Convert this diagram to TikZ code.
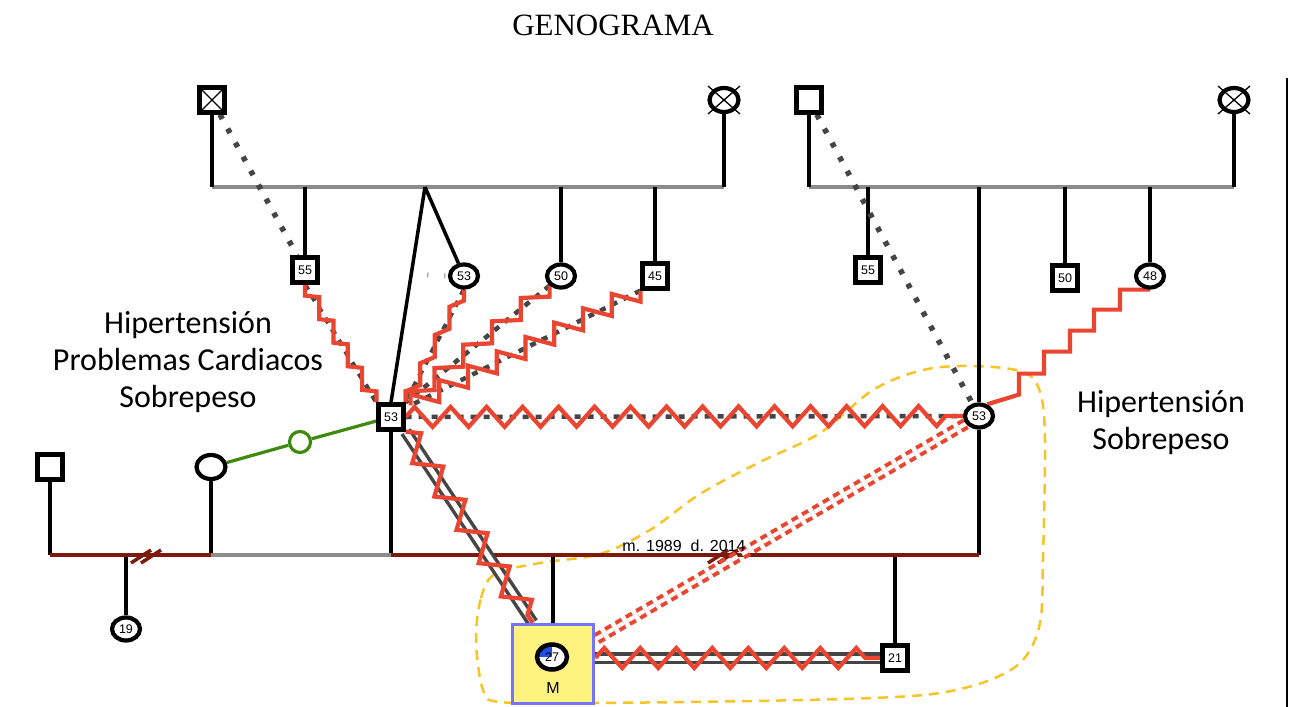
\documentclass[tikz,border=0pt]{standalone}
\usepackage{fontspec}
\setmainfont{Liberation Serif}
\newfontfamily\carl{Carlito}
\newfontfamily\arl{Liberation Sans}
\usetikzlibrary{shapes.geometric,decorations.pathmorphing,calc}
\definecolor{zred}{HTML}{EA4530}
\definecolor{dgray}{HTML}{454545}
\definecolor{lgray}{HTML}{8C8C8C}
\definecolor{mred}{HTML}{7E1A0C}
\definecolor{gr}{HTML}{3E8A0C}
\definecolor{yel}{HTML}{F7C427}
\definecolor{boxy}{HTML}{FFF380}
\definecolor{boxb}{HTML}{7373FF}
\definecolor{ib}{HTML}{1F4FE6}
\pgfdeclarelayer{bg}
\pgfsetlayers{bg,main}
\newcommand\stairline[4]{%
  \draw[redst] (#1) \foreach \k in {1,...,#3} {
     -- ($(#1)!{(\k-1)/#3}!(#2)+(0,#4)$) -- ($(#1)!{\k/#3}!(#2)+(0,-#4)$) } -- (#2);
}
\begin{document}
\begin{tikzpicture}[x=1pt,y=-1pt,
  numf/.style={font=\arl\fontsize{12.5}{12.5}\selectfont},
  sq/.style={draw, line width=4.2pt, fill=white, minimum width=25pt, minimum height=25pt, inner sep=0pt, numf},
  ci/.style={ellipse, draw, line width=4.2pt, fill=white, minimum width=28pt, minimum height=23pt, inner sep=0pt, numf},
  kin/.style={line width=4.5pt, black},
  sib/.style={line width=4.5pt, lgray},
  mline/.style={line width=4.5pt, mred},
  graydash/.style={line width=4.5pt, dgray, dash pattern=on 6pt off 7pt},
  dots/.style={line width=5.5pt, dgray, dash pattern=on 5pt off 11pt},
  redst/.style={line width=4.2pt, zred, line join=miter, miter limit=4},
  zz/.style={line width=4.2pt, zred, line join=miter, decorate, decoration={zigzag, segment length=#1, amplitude=10pt}},
  dbl/.style={line width=3.5pt, dgray, double=white, double distance=5pt},
  reddbl/.style={line width=4pt, zred, double=white, double distance=4pt, dash pattern=on 7pt off 5pt},
  hh/.style={yel, line width=2.5pt, dash pattern=on 10pt off 7pt},
  xsq/.style={sq, path picture={\draw[line width=1.3pt] (path picture bounding box.north west) -- (path picture bounding box.south east) (path picture bounding box.north east) -- (path picture bounding box.south west);}},
  lbl/.style={font=\carl\fontsize{32}{37}\selectfont, align=center}
]
\useasboundingbox (0,0) rectangle (1294,707);

% title and labels
\node[font=\fontsize{31}{31}\selectfont] (title) at (613,25) {GENOGRAMA};
\node[lbl] (ltxt) at (188,362) {Hipertensión\\Problemas Cardiacos\\Sobrepeso};
\node[lbl] (rtxt) at (1161,423) {Hipertensión\\Sobrepeso};
\node[font=\arl\fontsize{16}{16}\selectfont, anchor=base] (mlab) at (684,551) {m. 1989\ \ d. 2014};

% nodes - paternal
\node[xsq] (gf1) at (212,100) {};
\node[ci, minimum width=29pt, minimum height=24pt] (gm1) at (724,100) {};
\node[sq] (u55) at (305,270) {55};
\node[ci] (aunt53) at (464,276) {53};
\node[ci] (a50) at (561,276) {50};
\node[sq] (u45) at (655,276) {45};
\node[sq] (father) at (391,417) {53};
% maternal
\node[sq] (gf2) at (809,100) {};
\node[ci, minimum width=29pt, minimum height=24pt] (gm2) at (1234,100) {};
\node[sq] (mu55) at (868,270) {55};
\node[ci] (mother) at (979,416) {53};
\node[sq] (mu50) at (1065,278) {50};
\node[ci] (ma48) at (1150,276) {48};
% left
\node[sq] (lsq) at (50,467) {};
\node[ci, minimum width=29pt, minimum height=24pt] (wom) at (211,467) {};
\node[circle, draw=gr, line width=3.2pt, fill=white, minimum size=21pt, inner sep=0pt] (gc) at (300,442) {};
\node[ci] (c19) at (126,629) {19};
% children
\node[draw=boxb, fill=boxy, line width=3.5pt, minimum width=81pt, minimum height=79pt, inner sep=0pt] (Mbox) at (553,664) {};
\node[ci, minimum width=30pt, minimum height=25pt, line width=4.5pt,
  path picture={\fill[ib] (path picture bounding box.center) -- (path picture bounding box.west) |- (path picture bounding box.north) -- cycle;}] (idx) at (552,657) {27};
\node[font=\arl\fontsize{16}{16}\selectfont] (Mlab) at (553,688) {M};
\node[sq] (s21) at (895,658) {21};

% crosses on deceased grandmothers
\foreach \g in {gm1,gm2}{
  \draw[line width=1.3pt] ($(\g.center)+(-16,-14)$) -- ($(\g.center)+(16,14)$);
  \draw[line width=1.3pt] ($(\g.center)+(16,-14)$) -- ($(\g.center)+(-16,14)$);
}

\begin{pgfonlayer}{bg}
% household boundary
\draw[hh] plot[smooth cycle, tension=0.55] coordinates {(476,640) (481,598) (495,574) (540,563) (600,554) (650,530) (700,494) (760,462) (820,433) (873,390) (923,370) (973,366) (1023,372) (1040,392) (1045,440) (1043,560) (1040,623) (1023,660) (990,680) (940,693) (873,698) (753,701) (587,703) (500,702) (483,690)};

% sibship lines
\coordinate (p0) at (212,187); \coordinate (p1) at (724,187);
\coordinate (q0) at (809,187); \coordinate (q1) at (1234,187);
\coordinate (tw) at (425,187);
\draw[sib] (p0) -- (p1);
\draw[sib] (q0) -- (q1);
\draw[kin] (gf1.south) -- (p0);
\draw[kin] (gm1.south) -- (p1);
\draw[kin] (u55.north) -- (u55.north |- p0);
\draw[kin] (a50.north) -- (a50.north |- p0);
\draw[kin] (u45.north) -- (u45.north |- p0);
\draw[kin, line width=3.5pt] (tw) -- (father.north);
\draw[kin, line width=3.5pt] (tw) -- (aunt53);
\draw[lgray!70, line width=5pt, dash pattern=on 1.5pt off 15.5pt] (427,275) -- (aunt53.west);
\draw[kin] (gf2.south) -- (q0);
\draw[kin] (gm2.south) -- (q1);
\draw[kin] (mu55.north) -- (mu55.north |- q0);
\draw[kin] (mother.north) -- (mother.north |- q0);
\draw[kin] (mu50.north) -- (mu50.north |- q0);
\draw[kin] (ma48.north) -- (ma48.north |- q0);

% marriages
\coordinate (m0) at (50,555); \coordinate (m1) at (211,555);
\coordinate (m2) at (391,555); \coordinate (m3) at (979,555);
\draw[kin] (lsq.south) -- (m0);
\draw[kin] (wom.south) -- (m1);
\draw[kin] (father.south) -- (m2);
\draw[kin] (mother.south) -- (m3);
\draw[kin] (c19.north) -- (c19.north |- m0);
\draw[kin] (Mbox.north) -- (Mbox.north |- m2);
\draw[kin] (s21.north) -- (s21.north |- m2);
\draw[mline] (m0) -- (m1);
\draw[sib] (m1) -- (m2);
\draw[mline] (m2) -- (m3);
\coordinate (d1) at (141,556); \coordinate (d2) at (718,556);
\foreach \d in {d1,d2}{
  \draw[mline, line width=3.5pt] (\d) ++(-10,7) -- ++(20,-13);
  \draw[mline, line width=3.5pt] (\d) ++(0,7) -- ++(20,-13);
}

% dotted lines
\draw[dots] (gf1) -- (u55);
\draw[dots] (gf2) -- (mother);

% green
\draw[gr, line width=3.2pt] (wom) -- (gc) -- (father);

% relationships father - siblings
\draw[graydash] (u55.south) -- (father.north west);
\stairline{u55.south}{father.north west}{5}{11}
\draw[graydash] (aunt53.south) -- (father.north east);
\stairline{aunt53.south}{father.north east}{4}{11}
\draw[graydash] (a50.south west) -- (father.north east);
\stairline{a50.south west}{father.north east}{5}{11}
\coordinate (fne) at ($(father.north east)+(5,3)$);
\draw[graydash] (u45.south west) -- (fne);
\stairline{u45.south west}{fne}{8}{11}

% father - mother
\draw[graydash] (father.east) -- (mother.west);
\draw[zz=36pt] (father.east) -- (mother.west);

% mother - 48
\draw[redst] (ma48.south) -- ++(-30,0) -- ++(0,20) -- ++(-26,0) -- ++(0,21) -- ++(-24,0) -- ++(0,21) -- ++(-26,0) -- ++(0,22) -- ++(-25,0) -- ++(0,21) -- (mother.55);

% father - M
\coordinate (mtop) at ($(Mbox.north west)+(22,0)$);
\draw[dbl] (father.south east) -- (mtop);
\draw[line width=4.2pt, zred, line join=miter, decorate, decoration={zigzag, segment length=40pt, amplitude=12pt}] (father.south east) -- (mtop);

% mother - M
\draw[reddbl] (mother) -- (Mbox);

% M - 21
\draw[dbl] (Mbox.east |- s21.west) -- (s21.west);
\draw[zz=36pt] (Mbox.east |- s21.west) -- (s21.west);

% page edge line
\coordinate (rt) at (1287,78); \coordinate (rb) at (1287,707);
\draw[line width=2pt] (rt) -- (rb);
\end{pgfonlayer}
\end{tikzpicture}
\end{document}
